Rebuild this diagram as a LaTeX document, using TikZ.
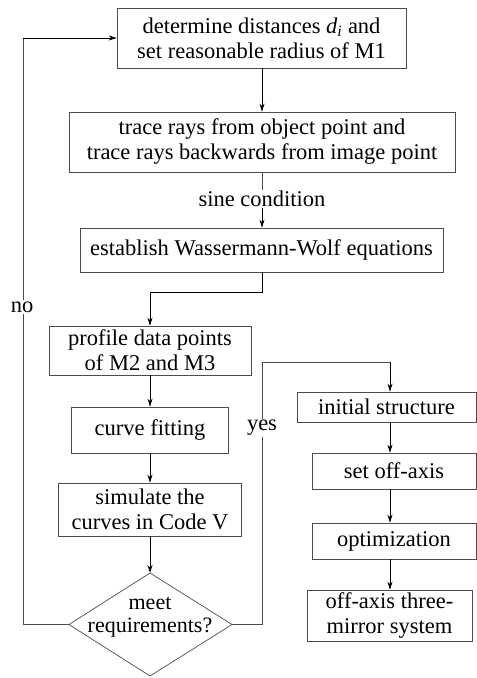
\documentclass[tikz,border=0pt]{standalone}
\usepackage{fontspec}
\setmainfont{Liberation Serif}
\usetikzlibrary{arrows.meta}
\tikzset{
  box/.style={draw=black!70, line width=0.7pt, align=center, inner sep=0pt, font=\fontsize{22.5}{25}\selectfont},
  lbl/.style={align=center, inner sep=1pt, fill=white, font=\fontsize{22.5}{25}\selectfont},
  arr/.style={draw=black, line width=0.8pt, -{Stealth[length=8pt,width=5pt]}},
  ln/.style={draw=black!70, line width=0.7pt},
}
\begin{document}
\begin{tikzpicture}[x=1pt,y=-1pt]
\useasboundingbox (0,0) rectangle (477,678);
% left column
\node[box, minimum width=289pt, minimum height=60pt] (b1) at (261.5,38) {determine distances \textit{d}\textsubscript{\textit{i}} and\\set reasonable radius of M1};
\node[box, minimum width=386pt, minimum height=60pt] (b2) at (262,142) {trace rays from object point and\\trace rays backwards from image point};
\node[lbl] (sc) at (262,199) {sine condition};
\node[box, minimum width=363pt, minimum height=44pt] (b3) at (261.5,250) {establish Wassermann-Wolf equations};
\node[box, minimum width=202pt, minimum height=49pt] (b4) at (150,350.5) {profile data points\\of M2 and M3};
\node[box, minimum width=157pt, minimum height=46pt] (b5) at (150,430) {curve fitting};
\node[box, minimum width=183pt, minimum height=53pt] (b6) at (150,509.5) {simulate the\\curves in Code V};
% decision diamond
\coordinate (dT) at (150,573);
\coordinate (dR) at (232,624.5);
\coordinate (dB) at (150,676);
\coordinate (dL) at (69,624.5);
\draw[ln] (dT) -- (dR) -- (dB) -- (dL) -- cycle;
\node[align=center, inner sep=0pt, font=\fontsize{22}{23}\selectfont] (dtx) at (150,617) {meet\\requirements?};
% right column
\node[box, minimum width=179pt, minimum height=30pt] (r1) at (386.5,407) {initial structure};
\node[box, minimum width=164pt, minimum height=36pt] (r2) at (394,471) {set off-axis};
\node[box, minimum width=164pt, minimum height=36pt] (r3) at (394,541) {optimization};
\node[box, minimum width=165pt, minimum height=51pt] (r4) at (389.5,615.5) {off-axis three-\\mirror system};
\coordinate (ax) at (390,0);
% connectors
\draw[arr] (b1.south -| 262,0) -- (b2.north -| 262,0);
\draw[ln] (b2.south -| 262,0) -- (sc.north);
\draw[arr] (sc.south) -- (b3.north -| 262,0);
\draw[arr] (b3.south -| 262,0) -- (262,292) -| (b4.north);
\draw[arr] (b4.south) -- (b5.north);
\draw[arr] (b5.south) -- (b6.north);
\draw[arr] (b6.south) -- (dT);
% no loop
\node[lbl] (no) at (22,307) {no};
\draw[ln] (dL) -- (23,624.5) -- (no.south -| 23,0);
\draw[ln] (no.north -| 23,0) -- (23,38);
\draw[arr] (23,38) -- (b1.west);
% yes loop
\node[lbl] (yes) at (262,428) {yes};
\draw[ln] (dR) -- (262,624.5) -- (yes.south);
\draw[ln] (yes.north) -- (262,362) -- (390,362);
\draw[arr] (390,362) -- (r1.north -| ax);
\draw[arr] (r1.south -| ax) -- (r2.north -| ax);
\draw[arr] (r2.south -| ax) -- (r3.north -| ax);
\draw[arr] (r3.south -| ax) -- (r4.north -| ax);
\end{tikzpicture}
\end{document}
